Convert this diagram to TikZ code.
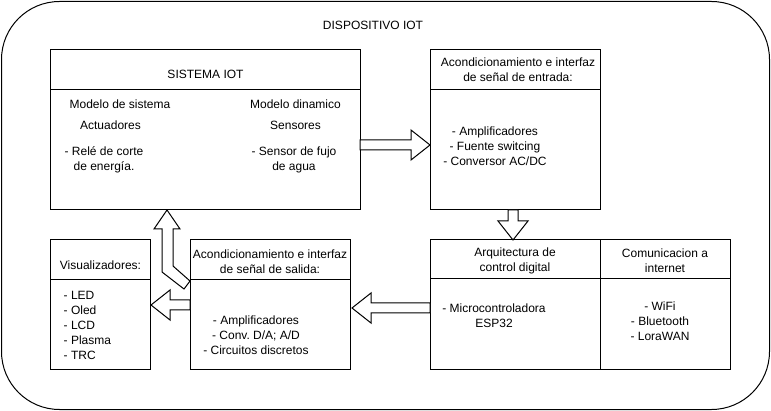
\documentclass[tikz,border=0pt]{standalone}
\usepackage{fontspec}
\setmainfont{Liberation Sans}
\usetikzlibrary{
    positioning, % posicion relativa de nodos
    calc
}

\begin{document}
\begin{tikzpicture}[x=1pt, y=-1pt, font=\fontsize{12}{15}\selectfont]

    % --- Estilos ---
    \tikzset{
        caja/.style={draw, line width=1pt, inner sep=0pt, outer sep=0pt},
        texto/.style={align=center, inner sep=0pt},
        lista/.style={align=left, inner sep=0pt, anchor=west},
        linea/.style={line width=1pt},
        cuerpo/.style={draw, fill=white, line width=1pt, line join=miter},
        flecha/.style={cuerpo,
            to path={let \p1=(\tikztostart), \p2=(\tikztotarget),
                \n1={atan2(\y2-\y1,\x2-\x1)}, \n2={veclen(\x2-\x1,\y2-\y1)} in
                {[shift={(\p1)}, rotate=\n1]
                (0,5) -- (\n2-19,5) -- (\n2-19,15) -- (\n2,0) -- (\n2-19,-15)
                -- (\n2-19,-5) -- (0,-5) -- cycle}}}
    }

    \useasboundingbox (0,0) rectangle (771,411);

    % --- Marco del dispositivo ---
    \node[caja, rounded corners=58pt, minimum width=768pt, minimum height=408pt]
        (disp) at (385.5,205.5) {};
    \node[texto] (disp_tit) at (373,25.5) {DISPOSITIVO IOT};

    % --- Cajas ---
    \node[caja, minimum width=310pt, minimum height=160pt] (sis) at (205,130) {};
    \node[caja, minimum width=170pt, minimum height=160pt] (ent) at (515,130) {};
    \node[caja, minimum width=170pt, minimum height=130pt] (arq) at (515,305) {};
    \node[caja, minimum width=130pt, minimum height=130pt] (com) at (665,305) {};
    \node[caja, minimum width=160pt, minimum height=130pt] (sal) at (270,305) {};
    \node[caja, minimum width=100pt, minimum height=130pt] (vis) at (100,305) {};

    % --- Lineas de encabezado ---
    \draw[linea] ([yshift=-40pt]sis.north west) -- ([yshift=-40pt]sis.north east);
    \draw[linea] ([yshift=-40pt]ent.north west) -- ([yshift=-40pt]ent.north east);
    \draw[linea] ([yshift=-39pt]arq.north west) -- ([yshift=-39pt]com.north east);
    \draw[linea] ([yshift=-40pt]sal.north west) -- ([yshift=-40pt]sal.north east);
    \draw[linea] ([yshift=-40pt]vis.north west) -- ([yshift=-40pt]vis.north east);

    % --- Sistema IOT ---
    \node[texto] (sis_tit) at (205.5,74) {SISTEMA IOT};
    \node[texto] (mod_sis) at (120,104) {Modelo de sistema};
    \node[texto] (act) at (110.5,125) {Actuadores};
    \node[texto] (act_l) at (104,160) {- Relé de corte\\de energía.};
    \node[texto] (mod_din) at (295.5,104) {Modelo dinamico};
    \node[texto] (sen) at (295.5,125) {Sensores};
    \node[texto] (sen_l) at (294,160) {- Sensor de fujo\\de agua};

    % --- Entrada ---
    \node[texto] (ent_tit) at (518,70) {Acondicionamiento e interfaz\\de señal de entrada:};
    \node[texto] (ent_l) at (495,146)
        {- Amplificadores\\- Fuente switcing\\- Conversor AC/DC};

    % --- Control digital y comunicacion ---
    \node[texto] (arq_tit) at (515,261) {Arquitectura de\\control digital};
    \node[texto] (arq_l) at (494,316) {- Microcontroladora\\ESP32};
    \node[texto] (com_tit) at (665,261) {Comunicacion a\\internet};
    \node[texto] (com_l) at (660,321) {- WiFi\\- Bluetooth\\- LoraWAN};

    % --- Salida ---
    \node[texto] (sal_tit) at (270,262) {Acondicionamiento e interfaz\\de señal de salida:};
    \node[texto] (sal_l) at (256,335)
        {- Amplificadores\\- Conv.\ D/A; A/D\\- Circuitos discretos};

    % --- Visualizadores ---
    \node[texto] (vis_tit) at (100.5,265) {Visualizadores:};
    \node[lista] (vis_l) at (63.5,325.5) {- LED\\- Oled\\- LCD\\- Plasma\\- TRC};

    % --- Flechas ---
    \draw[flecha] ([yshift=-15pt]sis.east) to ([yshift=-15pt]ent.west);
    \draw[flecha] ([xshift=-2pt]ent.south) to ([xshift=-2pt]arq.north);
    \draw[flecha] ([yshift=-3pt]arq.west) to ([yshift=-3pt, xshift=2pt]sal.east);
    \draw[flecha] (sal.west) to ([xshift=1pt]vis.east);
    \draw[cuerpo] (sal.north west) ++(0,41) -- ++(-17,-15) -- ++(0,-37) -- ++(7,0)
        -- ++(-13,-19) -- ++(-13,19) -- ++(8,0) -- ++(0,43) -- ++(22,17) -- cycle;

\end{tikzpicture}
\end{document}
